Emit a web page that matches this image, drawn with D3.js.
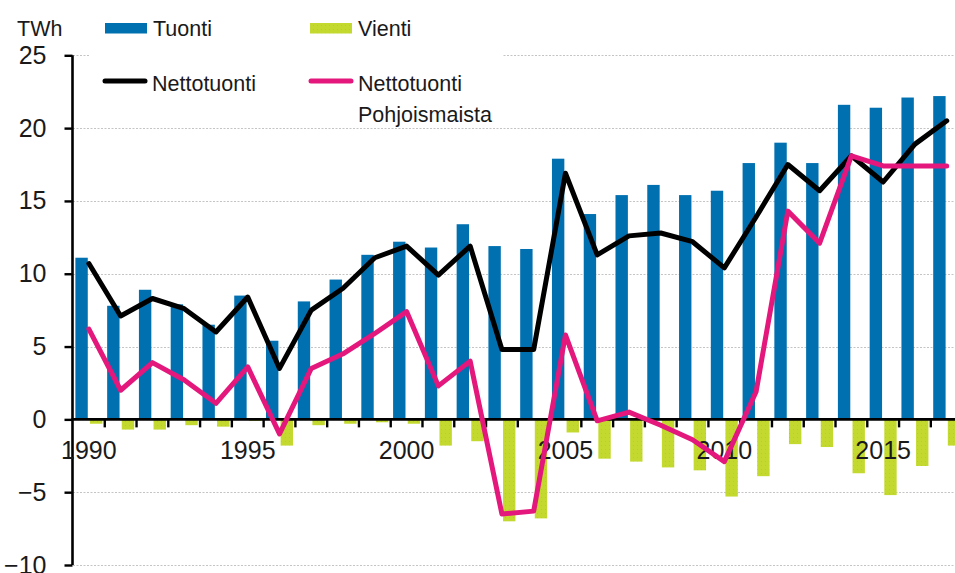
<!DOCTYPE html>
<html>
<head>
<meta charset="utf-8">
<script src="https://cdn.jsdelivr.net/npm/d3@7"></script>
<style>
  html, body { margin: 0; padding: 0; background: #fff; }
  svg { display: block; font-family: "Liberation Sans", Arial, sans-serif; }
</style>
</head>
<body>
<svg id="chart" width="955" height="573"></svg>
<script>
// ── Data ──────────────────────────────────────────────────────────────────────
const years = [1990, 1991, 1992, 1993, 1994, 1995, 1996, 1997, 1998, 1999,
               2000, 2001, 2002, 2003, 2004, 2005, 2006, 2007, 2008, 2009,
               2010, 2011, 2012, 2013, 2014, 2015, 2016, 2017];
const tuonti = [11.1, 7.8, 8.9, 7.9, 6.5, 8.5, 5.4, 8.1, 9.6, 11.3,
                12.2, 11.8, 13.4, 11.9, 11.7, 17.9, 14.1, 15.4, 16.1, 15.4,
                15.7, 17.6, 19.0, 17.6, 21.6, 21.4, 22.1, 22.2];
const vienti = [-0.3, -0.7, -0.7, -0.4, -0.5, -0.1, -1.8, -0.4, -0.3, -0.2,
                -0.3, -1.8, -1.5, -7.0, -6.8, -0.9, -2.7, -2.9, -3.3, -3.5,
                -5.3, -3.9, -1.7, -1.9, -3.7, -5.2, -3.2, -1.8];
const nettotuonti = [10.7, 7.1, 8.3, 7.6, 6.0, 8.4, 3.5, 7.5, 9.0, 11.1,
                     11.9, 9.9, 11.9, 4.8, 4.8, 16.9, 11.3, 12.6, 12.8, 12.2,
                     10.4, 13.9, 17.5, 15.7, 18.1, 16.3, 18.9, 20.5];
const pohjoismaista = [6.2, 2.0, 3.9, 2.7, 1.1, 3.6, -1.0, 3.5, 4.5, 5.9,
                       7.4, 2.3, 4.0, -6.5, -6.3, 5.8, -0.1, 0.5, -0.4, -1.4,
                       -2.9, 1.9, 14.3, 12.1, 18.1, 17.4, 17.4, 17.4];
const yTicks = [-10, -5, 0, 5, 10, 15, 20, 25];
const xLabelYears = [1990, 1995, 2000, 2005, 2010, 2015];

// ── Constants ─────────────────────────────────────────────────────────────────
const BLUE  = '#0070b0';
const GREEN = '#c4d92f';
const PINK  = '#e3177c';
const GRID  = '#c4c4c4';
const PLOT_LEFT  = 73;
const PLOT_RIGHT = 962.6;
const AXIS_FONT  = 25;
const LEG_FONT   = 21.5;
const LINE_W     = 5;

const svg = d3.select('#chart');

// ── Scales ────────────────────────────────────────────────────────────────────
const x = d3.scaleBand().domain(years).range([PLOT_LEFT, PLOT_RIGHT]);
const y = d3.scaleLinear().domain([-10, 25]).range([565, 55.3]);
const bw = x.bandwidth();
const barW = bw * 0.39;
const gap = bw * 0.035;
const cx = yr => x(yr) + bw / 2;

// ── Patterns ──────────────────────────────────────────────────────────────────
// Vienti bars have a faint dotted texture on top of the green fill
const defs = svg.append('defs');
const pat = defs.append('pattern')
  .attr('id', 'dots').attr('patternUnits', 'userSpaceOnUse')
  .attr('width', 4).attr('height', 4);
pat.append('rect').attr('width', 4).attr('height', 4).attr('fill', GREEN);
pat.append('rect').attr('x', 1).attr('y', 1).attr('width', 1).attr('height', 1)
  .attr('fill', '#d1b45c').attr('opacity', 0.8);

// ── Grid ──────────────────────────────────────────────────────────────────────
svg.append('g')
  .selectAll('line')
  .data(yTicks.filter(t => t !== 0))
  .join('line')
  .attr('x1', PLOT_LEFT).attr('x2', 955)
  .attr('y1', d => Math.round(y(d)) + 0.5).attr('y2', d => Math.round(y(d)) + 0.5)
  .attr('stroke', GRID).attr('stroke-width', 1).attr('stroke-dasharray', '2,1.5');

// ── Bars ──────────────────────────────────────────────────────────────────────
svg.append('g')
  .selectAll('rect')
  .data(years)
  .join('rect')
  .attr('x', d => cx(d) - gap - barW)
  .attr('width', barW)
  .attr('y', (d, i) => y(tuonti[i]))
  .attr('height', (d, i) => y(0) - y(tuonti[i]))
  .attr('fill', BLUE);

svg.append('g')
  .selectAll('rect')
  .data(years)
  .join('rect')
  .attr('x', d => cx(d) + gap)
  .attr('width', barW)
  .attr('y', y(0))
  .attr('height', (d, i) => y(vienti[i]) - y(0))
  .attr('fill', 'url(#dots)');

// ── Axes ──────────────────────────────────────────────────────────────────────
const yAxis = svg.append('g')
  .attr('transform', `translate(${PLOT_LEFT - 0.5},0)`)
  .call(d3.axisLeft(y).tickValues(yTicks).tickSize(8).tickPadding(18)
    .tickFormat(d3.format('d')));
yAxis.select('.domain').attr('d', `M0,${y(-10)}V${y(25)}`)
  .attr('stroke', '#000').attr('stroke-width', 2.6);
yAxis.selectAll('.tick line').attr('stroke', '#000').attr('stroke-width', 2.4);
yAxis.selectAll('.tick text')
  .attr('font-size', AXIS_FONT).attr('fill', '#1a1a1a').attr('font-family', null);

const xAxis = svg.append('g').attr('transform', `translate(0,${y(0)})`);
xAxis.append('line')
  .attr('x1', PLOT_LEFT - 1.5).attr('x2', 955)
  .attr('stroke', '#000').attr('stroke-width', 2.6);
xAxis.selectAll('line.tk')
  .data(years.slice(1))
  .join('line').attr('class', 'tk')
  .attr('x1', d => x(d)).attr('x2', d => x(d))
  .attr('y1', 0).attr('y2', 8)
  .attr('stroke', '#000').attr('stroke-width', 2.4);
xAxis.selectAll('text')
  .data(xLabelYears)
  .join('text')
  .attr('x', d => cx(d)).attr('y', 459 - y(0))
  .attr('text-anchor', 'middle')
  .attr('font-size', AXIS_FONT).attr('fill', '#1a1a1a')
  .text(d => d);

// ── Lines ─────────────────────────────────────────────────────────────────────
function drawLine(values, color) {
  svg.append('path')
    .datum(years)
    .attr('d', d3.line().x(d => cx(d)).y((d, i) => y(values[i])))
    .attr('fill', 'none').attr('stroke', color).attr('stroke-width', LINE_W)
    .attr('stroke-linejoin', 'round').attr('stroke-linecap', 'round');
}
drawLine(nettotuonti, '#000');
drawLine(pohjoismaista, PINK);

// ── Legend ────────────────────────────────────────────────────────────────────
// white box hides the 25 gridline behind the legend, as in the original
svg.append('rect').attr('x', 89).attr('y', 4).attr('width', 414).attr('height', 120)
  .attr('fill', '#fff');

svg.append('text').attr('x', 17).attr('y', 36)
  .attr('font-size', LEG_FONT).attr('fill', '#1a1a1a').text('TWh');

const leg = svg.append('g').attr('font-size', LEG_FONT).attr('fill', '#1a1a1a');
leg.append('rect').attr('x', 105).attr('y', 23).attr('width', 42).attr('height', 10.5)
  .attr('fill', BLUE);
leg.append('text').attr('x', 153).attr('y', 36).text('Tuonti');
leg.append('rect').attr('x', 310).attr('y', 23).attr('width', 42).attr('height', 10.5)
  .attr('fill', 'url(#dots)');
leg.append('text').attr('x', 358).attr('y', 36).text('Vienti');
leg.append('line').attr('x1', 105).attr('x2', 145).attr('y1', 81).attr('y2', 81)
  .attr('stroke', '#000').attr('stroke-width', LINE_W).attr('stroke-linecap', 'round');
leg.append('text').attr('x', 152).attr('y', 91).text('Nettotuonti');
leg.append('line').attr('x1', 311).attr('x2', 351).attr('y1', 81).attr('y2', 81)
  .attr('stroke', PINK).attr('stroke-width', LINE_W).attr('stroke-linecap', 'round');
leg.append('text').attr('x', 358).attr('y', 91).text('Nettotuonti');
leg.append('text').attr('x', 358).attr('y', 122).text('Pohjoismaista');
</script>
</body>
</html>
